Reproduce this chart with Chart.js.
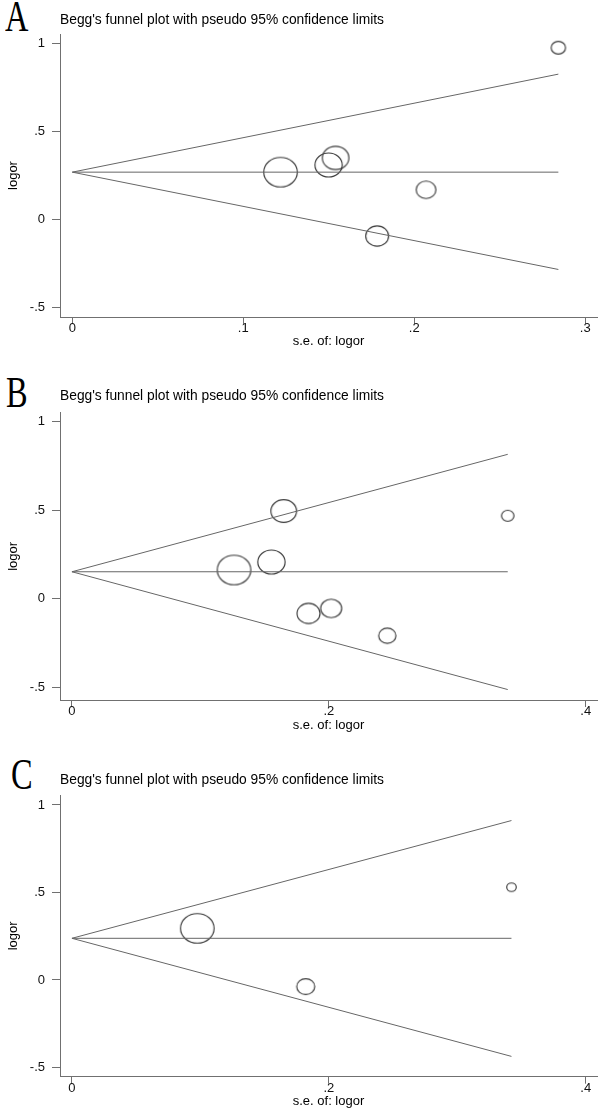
<!DOCTYPE html>
<html><head><meta charset="utf-8">
<script src="https://cdn.jsdelivr.net/npm/chart.js@4.4.0/dist/chart.umd.min.js"></script>
<style>
html,body{margin:0;padding:0;background:#fff;}
body{width:600px;height:1113px;position:relative;overflow:hidden;}
canvas{position:absolute;left:0;}
.letter{position:absolute;font-family:"Liberation Serif","Times New Roman",serif;font-size:45px;line-height:45px;transform:scaleX(0.72);transform-origin:0 0;color:#000;}
</style></head><body>
<div class="letter" style="left:5px;top:-6px;">A</div>
<div class="letter" style="left:6px;top:370px;">B</div>
<div class="letter" style="left:11px;top:752px;">C</div>
<canvas id="cA" width="603" height="355" style="top:0px"></canvas>
<canvas id="cB" width="603" height="360" style="top:375px"></canvas>
<canvas id="cC" width="603" height="363" style="top:750px"></canvas>
<script>
// ---- data ----
const titleText = "Begg's funnel plot with pseudo 95% confidence limits";
const xTitle = "s.e. of: logor";
const yTitle = "logor";

// Panel A
const seA    = [0.1218, 0.1499, 0.1540, 0.1783, 0.2069, 0.2843];
const logorA = [0.270, 0.311, 0.351, -0.093, 0.170, 0.977];
const pooledA = 0.27, seMaxA = 0.2843, upperA = 0.827, lowerA = -0.283;

// Panel B
const seB    = [0.1262, 0.1553, 0.1649, 0.1842, 0.2018, 0.2455, 0.3393];
const logorB = [0.163, 0.208, 0.496, -0.082, -0.054, -0.208, 0.469];
const pooledB = 0.153, seMaxB = 0.3393, upperB = 0.816, lowerB = -0.512;

// Panel C
const seC    = [0.0976, 0.182, 0.3422];
const logorC = [0.295, -0.038, 0.530];
const pooledC = 0.238, seMaxC = 0.3422, upperC = 0.911, lowerC = -0.437;

// ticks
const xTicksA = [0, 0.1, 0.2, 0.3];
const xLabelsA = ["0", ".1", ".2", ".3"];
const xTicksBC = [0, 0.2, 0.4];
const xLabelsBC = ["0", ".2", ".4"];
const yTicks = [-0.5, 0, 0.5, 1];
const yLabels = ["-.5", "0", ".5", "1"];

// ---- styling ----
const FONT = '"Liberation Sans", Arial, sans-serif';
const AXIS = '#707070';
const LINE = '#666666';
const MARK = '#3a3a3a';

function ellipse(rx, ry) {
  const c = document.createElement('canvas');
  const w = Math.ceil(2 * rx + 3), h = Math.ceil(2 * ry + 3);
  c.width = w; c.height = h;
  const g = c.getContext('2d');
  g.strokeStyle = MARK; g.lineWidth = 1.15;
  g.beginPath(); g.ellipse(w / 2, h / 2, rx, ry, 0, 0, Math.PI * 2); g.stroke();
  return c;
}

function lineDs(p0, p1) {
  return { type: 'line', data: [p0, p1], borderColor: LINE, borderWidth: 1,
           pointRadius: 0, fill: false, tension: 0 };
}

function build(id, se, lg, pooled, seMax, upper, lower, xTicks, xLabels, xr, yr, L) {
  const minSe = Math.min(...se);
  const pts = se.map((s, i) => ({ x: s, y: lg[i] }));
  const styles = se.map(s => { const rx = 16.8 * minSe / s; return ellipse(rx, rx * 0.88); });
  const font = { family: FONT, size: 13, weight: 'normal' };
  const tFont = { family: FONT, size: 13.8, weight: 'normal' };
  new Chart(document.getElementById(id), {
    type: 'scatter',
    data: { datasets: [
      lineDs({ x: 0, y: pooled }, { x: seMax, y: pooled }),
      lineDs({ x: 0, y: pooled }, { x: seMax, y: upper }),
      lineDs({ x: 0, y: pooled }, { x: seMax, y: lower }),
      { data: pts, showLine: false, pointRadius: 5, pointStyle: ctx => styles[ctx.dataIndex],
        borderColor: MARK, backgroundColor: 'rgba(0,0,0,0)' }
    ] },
    options: {
      responsive: false, animation: false, events: [],
      layout: { padding: { left: 0, right: 2, top: 0, bottom: 0 } },
      plugins: {
        legend: { display: false }, tooltip: { enabled: false },
        title: { display: true, text: titleText, align: 'start', fullSize: false, color: '#000',
                 font: tFont, padding: { top: L.tTop, bottom: L.tBot } }
      },
      scales: {
        x: {
          type: 'linear', min: xr[0], max: xr[1],
          afterBuildTicks: a => { a.ticks = xTicks.map(v => ({ value: v })); },
          afterFit: s => { s.height = L.xh; },
          ticks: { callback: (v, i) => xLabels[i], color: '#111', font: font, padding: -3,
                   maxRotation: 0, autoSkip: false },
          grid: { drawOnChartArea: false, drawTicks: true, tickLength: 7, color: AXIS },
          border: { display: true, color: AXIS, width: 1 },
          title: { display: true, text: xTitle, color: '#000', font: font,
                   padding: { top: 0, bottom: L.xtPad } }
        },
        y: {
          type: 'linear', min: yr[0], max: yr[1],
          afterBuildTicks: a => { a.ticks = yTicks.map(v => ({ value: v })); },
          afterFit: s => { s.width = 60; },
          ticks: { callback: (v, i) => yLabels[i], color: '#111', font: font, padding: 7, autoSkip: false },
          grid: { drawOnChartArea: false, drawTicks: true, tickLength: 8, color: AXIS },
          border: { display: true, color: AXIS, width: 1 },
          title: { display: true, text: yTitle, color: '#000', font: font, padding: { top: 5.5, bottom: 0 } }
        }
      }
    }
  });
}

build('cA', seA, logorA, pooledA, seMaxA, upperA, lowerA, xTicksA, xLabelsA,
      [-0.0072, 0.3069], [-0.553, 1.055], { tTop: 11.7, tBot: 5.74, xh: 38, xtPad: 5.5 });
build('cB', seB, logorB, pooledB, seMaxB, upperB, lowerB, xTicksBC, xLabelsBC,
      [-0.0093, 0.4088], [-0.571, 1.051], { tTop: 13.4, tBot: 7.74, xh: 35, xtPad: 2.2 });
build('cC', seC, logorC, pooledC, seMaxC, upperC, lowerC, xTicksBC, xLabelsBC,
      [-0.0093, 0.4088], [-0.553, 1.057], { tTop: 21.7, tBot: 6.74, xh: 36.3, xtPad: 3.5 });
</script>
</body></html>
